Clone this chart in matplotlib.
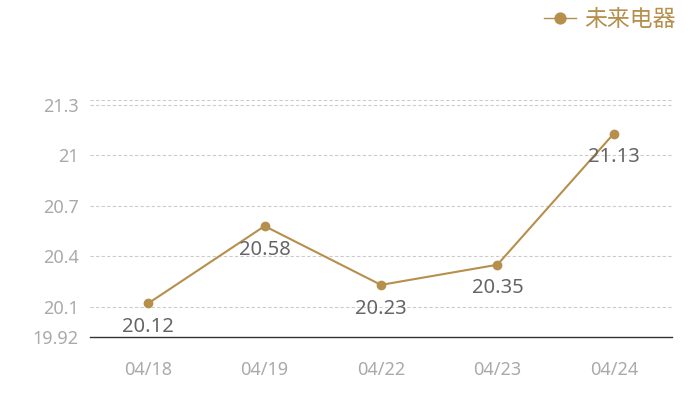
import matplotlib
matplotlib.use("Agg")
import matplotlib.pyplot as plt

plt.rcParams["font.family"] = ["Noto Sans", "Noto Sans CJK SC", "DejaVu Sans"]

# data
dates = ["04/18", "04/19", "04/22", "04/23", "04/24"]
prices = [20.12, 20.58, 20.23, 20.35, 21.13]
series_name = "未来电器"
y_ticks = [19.92, 20.1, 20.4, 20.7, 21, 21.3]
y_tick_labels = ["19.92", "20.1", "20.4", "20.7", "21", "21.3"]

gold = "#B68F4C"

fig = plt.figure(figsize=(7, 4), dpi=100)
ax = fig.add_axes([90 / 700, 63 / 400, 582 / 700, 237 / 400])

x = list(range(len(dates)))
ax.plot(x, prices, color=gold, linewidth=1.5, marker="o", markersize=6,
        label=series_name, zorder=3)

for xi, v in zip(x, prices):
    ax.annotate(f"{v:.2f}", (xi, v), xytext=(0, -17), textcoords="offset points",
                ha="center", va="center", fontsize=14.5, color="#666666")

ax.set_xlim(-0.5, len(dates) - 0.5)
ax.set_ylim(19.92, 21.33)
ax.set_xticks(x)
ax.set_xticklabels(dates)
ax.set_yticks(y_ticks)
ax.set_yticklabels(y_tick_labels)

ax.tick_params(axis="both", length=0, labelsize=13, labelcolor="#AAAAAA")
ax.tick_params(axis="x", pad=17)
ax.tick_params(axis="y", pad=8)

for t in y_ticks[1:]:
    ax.axhline(t, color="#CCCCCC", linewidth=0.8, linestyle=(0, (3, 2)), zorder=1)
ax.axhline(21.33, color="#CCCCCC", linewidth=0.8, linestyle=(0, (3, 2)), zorder=1)

for side in ["top", "right", "left"]:
    ax.spines[side].set_visible(False)
ax.spines["bottom"].set_color("#333333")
ax.spines["bottom"].set_linewidth(1)

leg = fig.legend(loc="upper right", bbox_to_anchor=(0.985, 1.015), frameon=False,
                 prop={"family": ["Noto Sans CJK SC"], "size": 16.5},
                 handlelength=1.4, handletextpad=0.35, markerscale=1.3,
                 borderaxespad=0.2)
for text in leg.get_texts():
    text.set_color(gold)
for handle in leg.legend_handles:
    handle.set_linewidth(1.0)

fig.savefig("out.png", dpi=100)
